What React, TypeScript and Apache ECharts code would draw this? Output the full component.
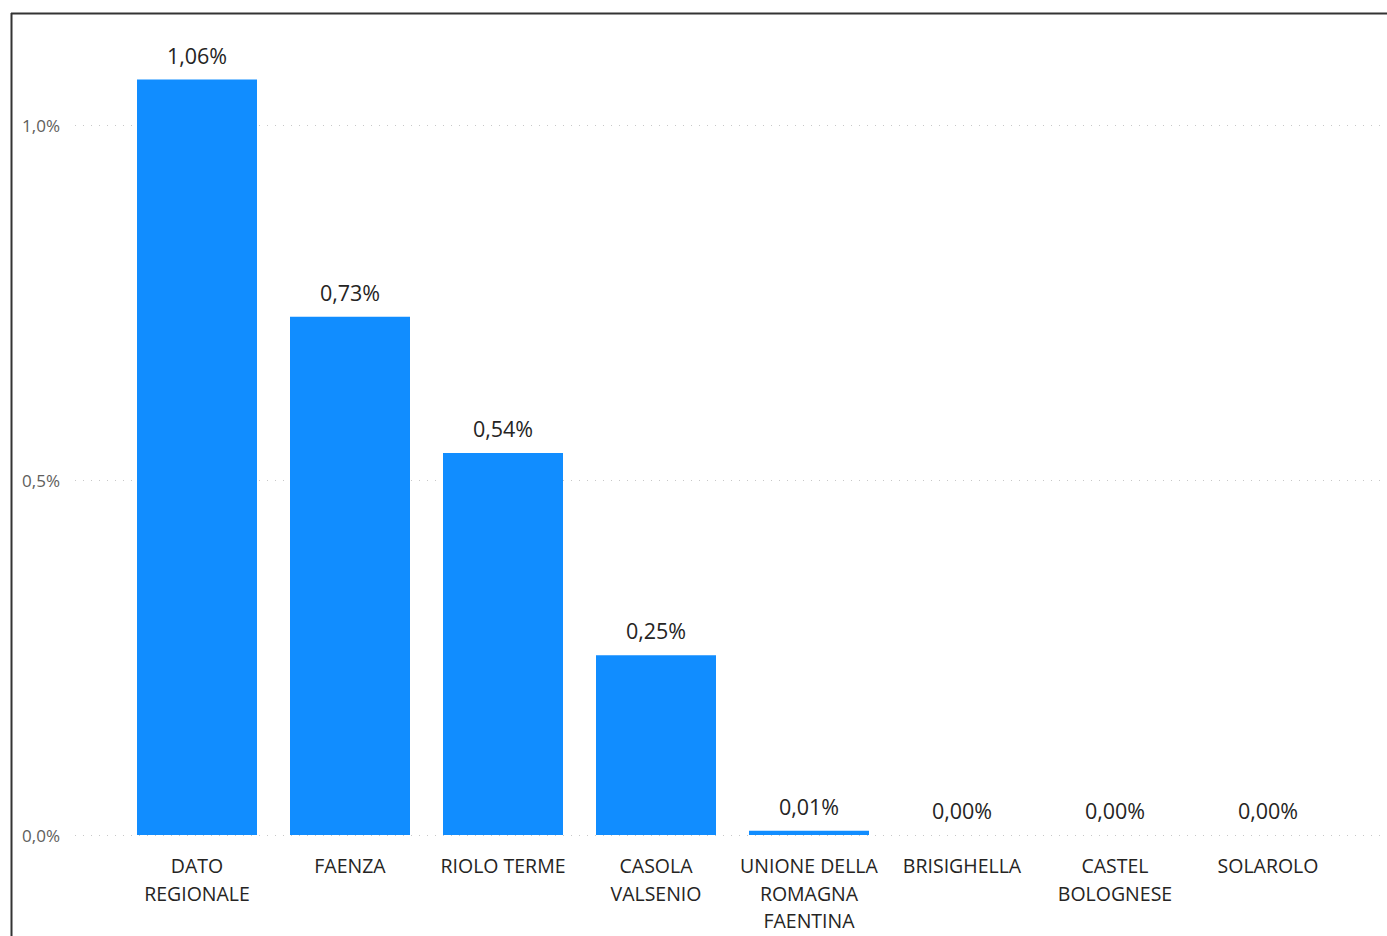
import React, { useEffect, useRef } from "react";
import * as echarts from "echarts";

const categories = [
  "DATO REGIONALE",
  "FAENZA",
  "RIOLO TERME",
  "CASOLA VALSENIO",
  "UNIONE DELLA ROMAGNA FAENTINA",
  "BRISIGHELLA",
  "CASTEL BOLOGNESE",
  "SOLAROLO",
];
const tickLabels = [
  "DATO\nREGIONALE",
  "FAENZA",
  "RIOLO TERME",
  "CASOLA\nVALSENIO",
  "UNIONE DELLA\nROMAGNA\nFAENTINA",
  "BRISIGHELLA",
  "CASTEL\nBOLOGNESE",
  "SOLAROLO",
];
const values = [1.064, 0.73, 0.538, 0.253, 0.006, 0, 0, 0];
const yTicks = [0, 0.5, 1.0];

const FONT = "'Segoe UI', 'Open Sans', 'Noto Sans', sans-serif";

export default function App() {
  const ref = useRef<HTMLDivElement>(null);
  useEffect(() => {
    if (!ref.current) return;
    const chart = echarts.init(ref.current, null, { renderer: "svg" });
    chart.setOption({
      animation: false,
      backgroundColor: "#ffffff",
      grid: [
        { left: 120.5, right: 42.5, top: 54, bottom: 101 },
        { left: 75, right: 0, top: 125, bottom: 101 },
      ],
      xAxis: [
        {
          type: "category",
          gridIndex: 0,
          data: categories,
          axisLine: { show: false },
          axisTick: { show: false },
          axisLabel: {
            interval: 0,
            margin: 17,
            color: "#252423",
            fontFamily: FONT,
            fontSize: 19.5,
            lineHeight: 27.5,
            formatter: (_v: string, i: number) => tickLabels[i],
          },
        },
        { type: "value", gridIndex: 1, show: false, min: 0, max: 1 },
      ],
      yAxis: [
        {
          type: "value",
          gridIndex: 0,
          min: 0,
          max: 1.1,
          show: false,
          splitLine: { show: false },
        },
        {
          type: "value",
          gridIndex: 1,
          min: yTicks[0],
          max: yTicks[yTicks.length - 1],
          interval: 0.5,
          axisLine: { show: false },
          axisTick: { show: false },
          axisLabel: {
            margin: 15,
            color: "#605E5C",
            fontFamily: FONT,
            fontSize: 17,
            formatter: (v: number) => v.toFixed(1).replace(".", ",") + "%",
          },
          splitLine: {
            show: true,
            lineStyle: { color: "#c8c8c8", width: 1, type: [1, 7] },
          },
        },
      ],
      series: [
        {
          type: "bar",
          xAxisIndex: 0,
          yAxisIndex: 0,
          data: values,
          barWidth: 120,
          itemStyle: { color: "#118DFF" },
          label: {
            show: true,
            position: "top",
            distance: 13.5,
            color: "#252423",
            fontFamily: FONT,
            fontSize: 21.5,
            formatter: (p: any) => p.value.toFixed(2).replace(".", ",") + "%",
          },
        },
        {
          type: "line",
          xAxisIndex: 1,
          yAxisIndex: 1,
          data: [],
          silent: true,
        },
      ],
      graphic: [
        {
          type: "line",
          shape: { x1: 11, y1: 13.5, x2: 1387, y2: 13.5 },
          style: { stroke: "#333333", lineWidth: 2 },
        },
        {
          type: "line",
          shape: { x1: 11.5, y1: 13, x2: 11.5, y2: 936 },
          style: { stroke: "#333333", lineWidth: 2 },
        },
      ],
    });
    return () => chart.dispose();
  }, []);
  return (
    <div
      ref={ref}
      style={{ position: "fixed", left: 0, top: 0, width: 1387, height: 936 }}
    />
  );
}
